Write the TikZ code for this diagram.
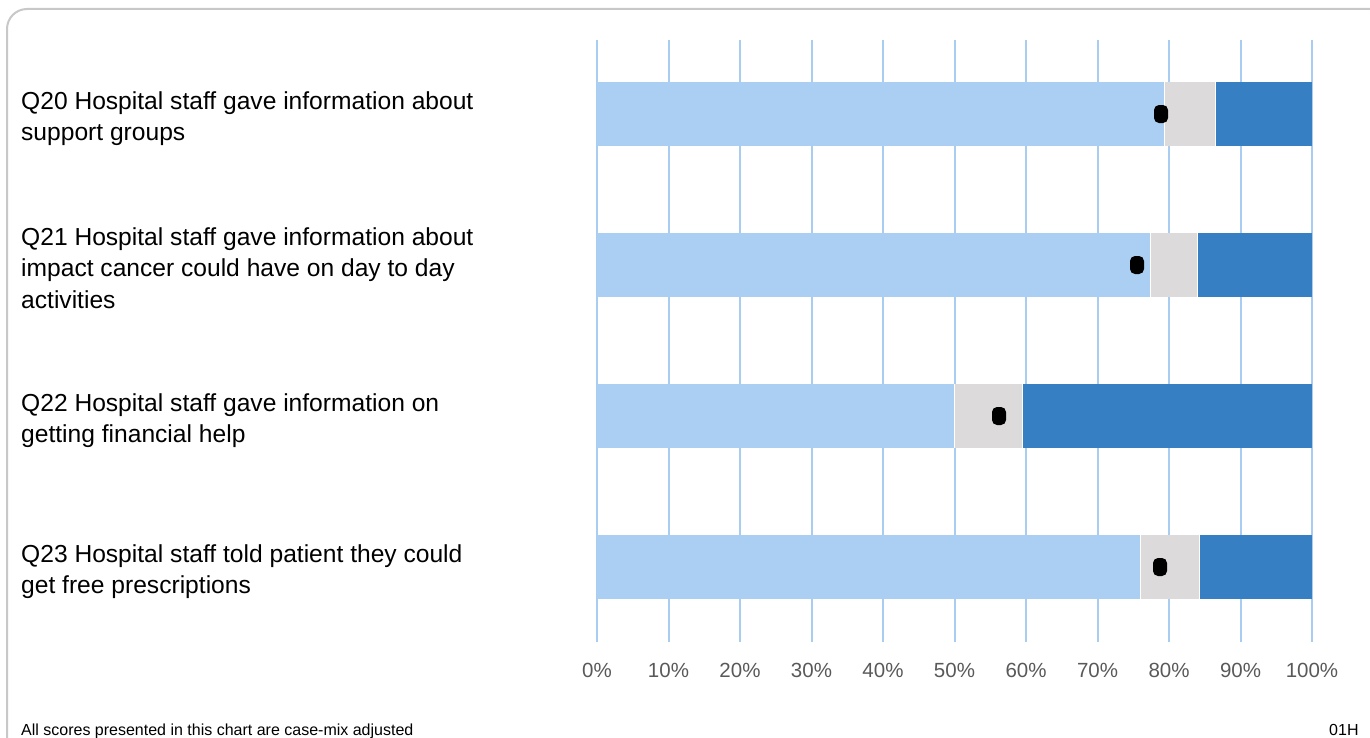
\documentclass[tikz,border=0pt]{standalone}
\usepackage{fontspec}
\setmainfont{Liberation Sans}
\definecolor{gridblue}{HTML}{A9CDF0}
\definecolor{lightbar}{HTML}{AACFF3}
\definecolor{graybar}{HTML}{DCDADA}
\definecolor{darkbar}{HTML}{367FC3}
\definecolor{framegray}{HTML}{C8C8C8}
\definecolor{axisgray}{HTML}{595959}
\tikzset{
  gridline/.style={draw=gridblue, line width=2bp},
  seg/.style={draw=white, line width=0.6bp},
  qlabel/.style={anchor=base west, inner sep=0pt, align=left,
    font=\fontsize{24.6bp}{31.5bp}\selectfont},
  axlabel/.style={anchor=base, inner sep=0pt, text=axisgray,
    font=\fontsize{20.5bp}{24bp}\selectfont},
  foot/.style={anchor=base west, inner sep=0pt,
    font=\fontsize{16bp}{19bp}\selectfont},
  marker/.style={fill=black, draw=none, rounded corners=5bp}
}
\begin{document}
\begin{tikzpicture}[x=1bp,y=-1bp]
\useasboundingbox (0,0) rectangle (1370,737);
\begin{scope}
\clip (0,0) rectangle (1370,737);
\draw[framegray, line width=2bp, rounded corners=20bp] (7,9) rectangle (1390,757);
\end{scope}
% gridlines
\foreach \i in {0,...,10} {
  \draw[gridline] ({597+71.5*\i},40) -- ({597+71.5*\i},642);
}
% bars: y-centres 114, 265, 416, 567; half height 32
\foreach \c/\a/\b/\m in {114/1164/1215/1161, 265/1150/1197/1137, 416/954/1022/999, 567/1140/1199/1160} {
  \fill[lightbar] (597,\c-32) rectangle (\a,\c+32);
  \fill[graybar] (\a,\c-32) rectangle (\b,\c+32);
  \fill[darkbar] (\b,\c-32) rectangle (1312,\c+32);
  \draw[seg] (\a,\c-32) -- (\a,\c+32);
  \draw[seg] (\b,\c-32) -- (\b,\c+32);
  \fill[marker] (\m-7,\c-9) rectangle (\m+7,\c+9);
}
% labels (base anchor = baseline of the last line)
\node[qlabel] (q20) at (21,140.5) {Q20 Hospital staff gave information about\\support groups};
\node[qlabel] (q21) at (21,308) {Q21 Hospital staff gave information about\\impact cancer could have on day to day\\activities};
\node[qlabel] (q22) at (21,442.5) {Q22 Hospital staff gave information on\\getting financial help};
\node[qlabel] (q23) at (21,593.5) {Q23 Hospital staff told patient they could\\get free prescriptions};
% axis labels
\foreach \i in {0,...,10} {
  \node[axlabel] (ax\i) at ({597+71.5*\i},677) {\the\numexpr\i*10\relax\%};
}
\node[foot] (fnote) at (21,735) {All scores presented in this chart are case-mix adjusted};
\node[foot] (code) at (1329,735) {01H};
\end{tikzpicture}
\end{document}
